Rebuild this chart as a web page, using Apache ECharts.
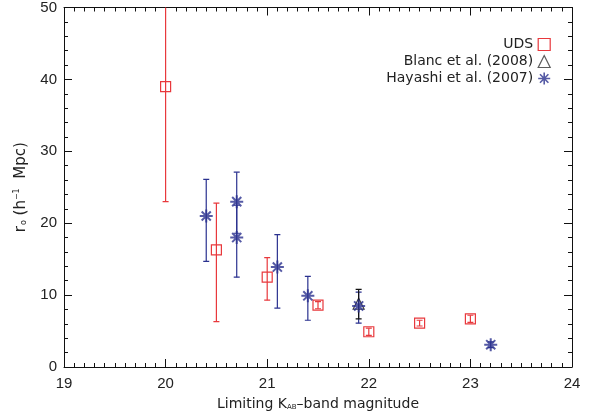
<!DOCTYPE html>
<html><head><meta charset="utf-8">
<script src="https://cdn.jsdelivr.net/npm/echarts@6/dist/echarts.min.js"></script>
<style>html,body{margin:0;padding:0;background:#fff}#c{width:601px;height:420px}</style>
</head><body><div id="c"></div>
<script>
// UDS (red squares)
const udsX  = [20.0, 20.5, 21.0, 21.5, 22.0, 22.5, 23.0];
const udsY  = [39.0, 16.3, 12.5, 8.6, 4.9, 6.1, 6.7];
const udsLo = [23.0, 6.3, 9.3, 8.1, 4.4, 5.7, 6.2];
const udsHi = [70.0, 22.8, 15.2, 9.1, 5.4, 6.5, 7.2];
// Hayashi et al. (2007) (blue asterisks)
const hayX  = [20.4, 20.7, 20.7, 21.1, 21.4, 21.9, 23.2];
const hayY  = [21.0, 23.0, 18.0, 13.9, 9.9, 8.5, 3.1];
const hayLo = [14.7, 18.6, 12.5, 8.2, 6.5, 6.1, 2.7];
const hayHi = [26.1, 27.1, 22.5, 18.4, 12.6, 10.4, 3.5];
// Blanc et al. (2008) (black triangle)
const blancX  = [21.9];
const blancY  = [8.8];
const blancLo = [6.7];
const blancHi = [10.8];

const RED = '#e8383c', BLUE = '#2a318f', BLACK = '#111';
const ASTER = 'path://M10,0L10,20M0,10L20,10M3,3L17,17M3,17L17,3';
const FONT = 'Liberation Sans, Arial, sans-serif';
const WFONT = 'DejaVu Sans, sans-serif';

function zipPts(xs, ys){ return xs.map((x,i)=>[x, ys[i]]); }
function zipErr(xs, lo, hi){ return xs.map((x,i)=>[x, lo[i], hi[i]]); }

function errRender(color){
  return function(params, api){
    const x = api.value(0), lo = api.value(1), hi = api.value(2);
    const p1 = api.coord([x, hi]), p2 = api.coord([x, lo]);
    const w = 3;
    const st = {stroke: color, lineWidth: 1.2};
    return {type:'group', children:[
      {type:'line', shape:{x1:p1[0], y1:p1[1], x2:p2[0], y2:p2[1]}, style:st},
      {type:'line', shape:{x1:p1[0]-w, y1:p1[1], x2:p1[0]+w, y2:p1[1]}, style:st},
      {type:'line', shape:{x1:p2[0]-w, y1:p2[1], x2:p2[0]+w, y2:p2[1]}, style:st}
    ]};
  };
}

const axisCommon = {
  type:'value',
  axisLine:{show:true, onZero:false, lineStyle:{color:'#111', width:1}},
  axisTick:{show:true, inside:true, length:8, lineStyle:{color:'#111'}},
  minorTick:{show:true, length:4, lineStyle:{color:'#111'}},
  splitLine:{show:false},
  minorSplitLine:{show:false},
};
const lblFont = {fontFamily:FONT, fontSize:15, color:'#222'};

const chart = echarts.init(document.getElementById('c'), null, {renderer:'canvas'});
chart.setOption({
  animation:false,
  backgroundColor:'#fff',
  grid:{left:64, right:29, top:6, bottom:53, containLabel:false},
  xAxis:[
    Object.assign({}, axisCommon, {min:19, max:24, interval:1, position:'bottom',
      minorTick:Object.assign({}, axisCommon.minorTick, {splitNumber:10}),
      axisLabel:Object.assign({margin:9}, lblFont),
      name:'{a|Limiting K}{s|AB}{a|–band magnitude}', nameLocation:'middle', nameGap:30,
      nameTextStyle:{rich:{
        a:{fontFamily:WFONT, fontSize:14, color:'#222'},
        s:{fontFamily:WFONT, fontSize:7, color:'#222', verticalAlign:'bottom', padding:[6,0,0,0]}
      }}}),
    Object.assign({}, axisCommon, {min:19, max:24, interval:1, position:'top',
      minorTick:Object.assign({}, axisCommon.minorTick, {splitNumber:10}),
      axisLabel:{show:false}})
  ],
  yAxis:[
    Object.assign({}, axisCommon, {min:0, max:50, interval:10, position:'left',
      minorTick:Object.assign({}, axisCommon.minorTick, {splitNumber:5}),
      axisLabel:Object.assign({margin:7}, lblFont),
      name:'{a|r}{s|o}{a| (h}{p|−1}{a|  Mpc)}', nameLocation:'middle', nameGap:35, nameRotate:90,
      nameTextStyle:{rich:{
        a:{fontFamily:WFONT, fontSize:15, color:'#222'},
        s:{fontFamily:WFONT, fontSize:8, color:'#222', padding:[6,0,0,1]},
        p:{fontFamily:WFONT, fontSize:8, color:'#222', padding:[0,0,8,0]}
      }}}),
    Object.assign({}, axisCommon, {min:0, max:50, interval:10, position:'right',
      minorTick:Object.assign({}, axisCommon.minorTick, {splitNumber:5}),
      axisLabel:{show:false}})
  ],
  legend:{
    orient:'vertical', right:45, top:31, align:'right', itemGap:0,
    itemWidth:12, itemHeight:12,
    textStyle:{fontFamily:WFONT, fontSize:14, color:'#222', lineHeight:17},
    data:[
      {name:'UDS', icon:'rect', itemStyle:{color:'transparent', borderColor:RED, borderWidth:1.2}},
      {name:'Blanc et al. (2008)', icon:'triangle', itemStyle:{color:'transparent', borderColor:'#333', borderWidth:1.2}},
      {name:'Hayashi et al. (2007)', icon:ASTER, itemStyle:{color:'transparent', borderColor:BLUE, borderWidth:1.6}}
    ]
  },
  series:[
    {type:'custom', name:'UDS err', renderItem:errRender(RED), clip:true, data:zipErr(udsX, udsLo, udsHi), z:2},
    {type:'custom', name:'Hayashi err', renderItem:errRender(BLUE), clip:true, data:zipErr(hayX, hayLo, hayHi), z:2},
    {type:'custom', name:'Blanc err', renderItem:errRender(BLACK), clip:true, data:zipErr(blancX, blancLo, blancHi), z:3},
    {type:'scatter', name:'Blanc et al. (2008)', symbol:'triangle', symbolSize:11,
      itemStyle:{color:'transparent', borderColor:BLACK, borderWidth:1.2}, data:zipPts(blancX, blancY), z:4},
    {type:'scatter', name:'UDS', symbol:'rect', symbolSize:10,
      itemStyle:{color:'transparent', borderColor:RED, borderWidth:1.2, opacity:1}, data:zipPts(udsX, udsY), z:5},
    {type:'scatter', name:'Hayashi et al. (2007)', symbol:ASTER, symbolSize:13,
      itemStyle:{color:'transparent', borderColor:BLUE, borderWidth:2}, data:zipPts(hayX, hayY), z:6}
  ]
});
</script></body></html>
